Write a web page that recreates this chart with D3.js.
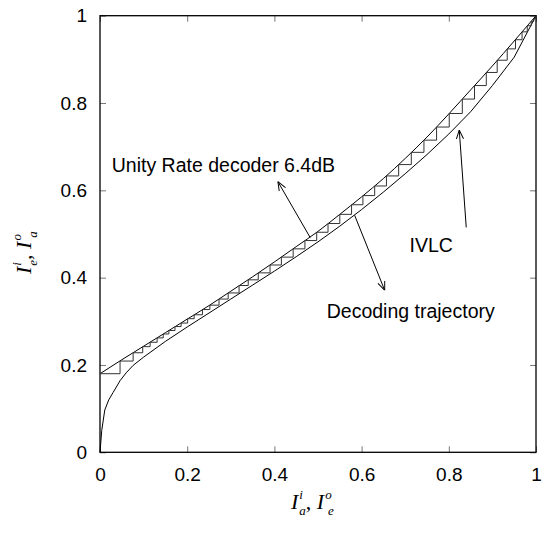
<!DOCTYPE html>
<meta charset="utf-8">
<style>
    body { margin: 0; background: white; }
    svg { display: block; background: white; }
    .tick text { font-family: "Liberation Sans", Arial, sans-serif; font-size: 19px; fill: #000; }
    .tick line { stroke: #777; }
    .note { font-family: "Liberation Sans", Arial, sans-serif; font-size: 19.5px; fill: #000; }
    .lab { font-family: "Liberation Serif", "Times New Roman", serif; font-style: italic; font-size: 22px; fill: #000; }
</style>
<svg width="542" height="544"></svg>
<script src="https://d3js.org/d3.v7.min.js"></script>
<script>
    // tick labels
    var tickVals = [0, 0.2, 0.4, 0.6, 0.8, 1];

    // unity rate decoder, 6.4dB (I_e vs I_a)
    var urcX = [0, 0.05, 0.1, 0.15, 0.2, 0.25, 0.3, 0.35, 0.4, 0.45, 0.5, 0.55, 0.6, 0.65, 0.7, 0.75, 0.8, 0.85, 0.9, 0.95, 1];
    var urcY = [0.18, 0.212, 0.243, 0.274, 0.305, 0.336, 0.369, 0.402, 0.436, 0.471, 0.506, 0.545, 0.585, 0.627, 0.673, 0.722, 0.775, 0.830, 0.885, 0.942, 1];

    // IVLC, inverted axes
    var ivlcX = [0, 0.004, 0.011, 0.02, 0.03, 0.046, 0.06, 0.076, 0.1, 0.15, 0.2, 0.25, 0.3, 0.35, 0.4, 0.45, 0.5, 0.55, 0.6, 0.65, 0.7, 0.75, 0.8, 0.85, 0.9, 0.95, 1];
    var ivlcY = [0, 0.05, 0.097, 0.12, 0.137, 0.164, 0.182, 0.199, 0.218, 0.254, 0.287, 0.319, 0.351, 0.383, 0.415, 0.448, 0.482, 0.518, 0.556, 0.596, 0.638, 0.682, 0.729, 0.780, 0.840, 0.905, 1];

    // decoding trajectory: x of each vertical step, y of each horizontal level
    var stepX = [0, 0.046, 0.076, 0.098, 0.115, 0.131, 0.145, 0.158, 0.172, 0.186, 0.201, 0.216, 0.235, 0.252, 0.273, 0.294, 0.319, 0.34, 0.363, 0.39, 0.416, 0.443, 0.47, 0.497, 0.523, 0.55, 0.577, 0.603, 0.63, 0.657, 0.685, 0.714, 0.743, 0.772, 0.801, 0.831, 0.859, 0.886, 0.911, 0.934, 0.953, 0.968, 0.98, 0.989, 0.995, 1];
    var stepY = [0.18, 0.209, 0.228, 0.242, 0.252, 0.262, 0.271, 0.279, 0.288, 0.296, 0.306, 0.315, 0.327, 0.337, 0.351, 0.365, 0.382, 0.395, 0.411, 0.429, 0.447, 0.466, 0.485, 0.504, 0.524, 0.545, 0.567, 0.588, 0.61, 0.633, 0.659, 0.687, 0.715, 0.745, 0.776, 0.809, 0.84, 0.87, 0.898, 0.924, 0.945, 0.963, 0.977, 0.987, 0.994, 1];

    var svg = d3.select("svg"),
        plotL = 100,
        plotR = 536,
        plotT = 15.7,
        plotB = 452.3;

    var x = d3.scaleLinear().domain([0, 1]).range([plotL, plotR]);
    var y = d3.scaleLinear().domain([0, 1]).range([plotB, plotT]);
    var fmt = d3.format("~g");

    // axes, ticks pointing inwards
    svg.append("g")
        .attr("transform", "translate(0," + plotB + ")")
        .call(d3.axisBottom(x).tickValues(tickVals).tickFormat(fmt).tickSize(-6).tickSizeOuter(0).tickPadding(15));
    svg.append("g")
        .attr("transform", "translate(0," + plotT + ")")
        .call(d3.axisTop(x).tickValues(tickVals).tickFormat("").tickSize(-6).tickSizeOuter(0));
    svg.append("g")
        .attr("transform", "translate(" + plotL + ",0)")
        .call(d3.axisLeft(y).tickValues(tickVals).tickFormat(fmt).tickSize(-6).tickSizeOuter(0).tickPadding(13));
    svg.append("g")
        .attr("transform", "translate(" + plotR + ",0)")
        .call(d3.axisRight(y).tickValues(tickVals).tickFormat("").tickSize(-6).tickSizeOuter(0));
    svg.selectAll(".domain").remove();

    svg.append("rect")
        .attr("x", plotL)
        .attr("y", plotT)
        .attr("width", plotR - plotL)
        .attr("height", plotB - plotT)
        .style("fill", "none")
        .style("stroke", "#000")
        .style("stroke-width", 1.3);

    var line = d3.line()
        .x(function(d) { return x(d[0]); })
        .y(function(d) { return y(d[1]); });

    svg.append("path")
        .datum(d3.zip(urcX, urcY))
        .attr("d", line.curve(d3.curveMonotoneX))
        .style("fill", "none")
        .style("stroke", "#000")
        .style("stroke-width", 1);

    svg.append("path")
        .datum(d3.zip(ivlcX, ivlcY))
        .attr("d", line.curve(d3.curveLinear))
        .style("fill", "none")
        .style("stroke", "#000")
        .style("stroke-width", 1);

    var traj = [[stepX[0], stepY[0]]];
    for (var k = 1; k < stepX.length; k++) {
        traj.push([stepX[k], stepY[k - 1]]);
        traj.push([stepX[k], stepY[k]]);
    }
    svg.append("path")
        .datum(traj)
        .attr("d", line.curve(d3.curveLinear))
        .style("fill", "none")
        .style("stroke", "#333")
        .style("stroke-width", 1);

    // open arrow heads
    svg.append("defs").append("marker")
        .attr("id", "head")
        .attr("viewBox", "0 -5 10 10")
        .attr("refX", 10)
        .attr("refY", 0)
        .attr("markerWidth", 9)
        .attr("markerHeight", 9)
        .attr("markerUnits", "userSpaceOnUse")
        .attr("orient", "auto")
        .append("path")
        .attr("d", "M0,-4L10,0L0,4")
        .style("fill", "none")
        .style("stroke", "#000")
        .style("stroke-width", 1.1);

    var notes = [
        { text: "Unity Rate decoder 6.4dB", tx: 0.027, ty: 0.642, from: [0.482, 0.492], to: [0.408, 0.62] },
        { text: "IVLC", tx: 0.71, ty: 0.459, from: [0.84, 0.515], to: [0.824, 0.738] },
        { text: "Decoding trajectory", tx: 0.52, ty: 0.307, from: [0.584, 0.543], to: [0.653, 0.371] }
    ];

    svg.selectAll(".arrow")
        .data(notes)
        .enter().append("line")
        .attr("class", "arrow")
        .attr("x1", function(d) { return x(d.from[0]); })
        .attr("y1", function(d) { return y(d.from[1]); })
        .attr("x2", function(d) { return x(d.to[0]); })
        .attr("y2", function(d) { return y(d.to[1]); })
        .style("stroke", "#000")
        .style("stroke-width", 1)
        .attr("marker-end", "url(#head)");

    svg.selectAll(".note")
        .data(notes)
        .enter().append("text")
        .attr("class", "note")
        .attr("x", function(d) { return x(d.tx); })
        .attr("y", function(d) { return y(d.ty); })
        .text(function(d) { return d.text; });

    // axis titles like I_a^i, I_e^o, one text element with stacked sub/superscripts
    function axisTitle(g, parts) {
        var t = g.append("text").attr("class", "lab").attr("x", 0).attr("y", 0);
        parts.forEach(function(p) {
            t.append("tspan").text("I");
            t.append("tspan").style("font-size", "13px").attr("dx", 1).attr("dy", -10).text(p[0]);
            t.append("tspan").style("font-size", "13px").attr("dx", -3.6).attr("dy", 16).text(p[1]);
            t.append("tspan").attr("dy", -6).style("font-style", "normal").text(p[2] ? ", " : "");
        });
    }

    axisTitle(svg.append("g").attr("transform", "translate(291,509)"), [["i", "a", true], ["o", "e", false]]);
    axisTitle(svg.append("g").attr("transform", "translate(31,274) rotate(-90)"), [["i", "e", true], ["o", "a", false]]);
</script>
